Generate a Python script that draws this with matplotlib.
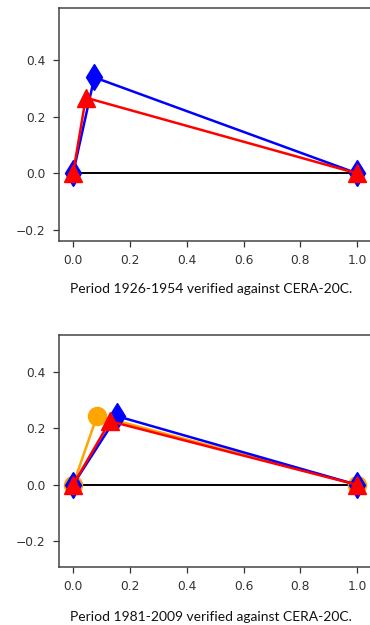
import matplotlib.pyplot as plt

plt.rcParams['font.family'] = 'DejaVu Sans'

# period 1926-1954
p1_blue_x = [0.0, 0.075, 1.0]
p1_blue_y = [0.0, 0.34, 0.0]
p1_red_x = [0.0, 0.045, 1.0]
p1_red_y = [0.0, 0.268, 0.0]

# period 1981-2009
p2_orange_x = [0.0, 0.085, 1.0]
p2_orange_y = [0.0, 0.245, 0.0]
p2_blue_x = [0.0, 0.155, 1.0]
p2_blue_y = [0.0, 0.243, 0.0]
p2_red_x = [0.0, 0.13, 1.0]
p2_red_y = [0.0, 0.225, 0.0]

captions = ["Period 1926-1954 verified against CERA-20C.",
            "Period 1981-2009 verified against CERA-20C."]

fig = plt.figure(figsize=(3.7, 6.25), dpi=100)
ax1 = fig.add_axes([0.159, 0.614, 0.845, 0.373])
ax2 = fig.add_axes([0.159, 0.093, 0.845, 0.371])

# top
ax1.plot([0, 1], [0, 0], color='black', lw=1.4, zorder=1)
ax1.plot(p1_blue_x, p1_blue_y, color='blue', marker='d', ms=13, lw=1.8)
ax1.plot(p1_red_x, p1_red_y, color='red', marker='^', ms=13, lw=1.8)
ax1.set_ylim(-0.24, 0.585)

# bottom
ax2.plot([0, 1], [0, 0], color='black', lw=1.4, zorder=1)
ax2.plot(p2_orange_x, p2_orange_y, color='orange', marker='o', ms=13, lw=1.8)
ax2.plot(p2_blue_x, p2_blue_y, color='blue', marker='d', ms=13, lw=1.8)
ax2.plot(p2_red_x, p2_red_y, color='red', marker='^', ms=13, lw=1.8)
ax2.set_ylim(-0.29, 0.53)

for ax in (ax1, ax2):
    ax.set_xlim(-0.05, 1.05)
    ax.set_xticks([0, 0.2, 0.4, 0.6, 0.8, 1.0])
    ax.set_yticks([-0.2, 0.0, 0.2, 0.4])
    ax.tick_params(labelsize=8.8, colors='#333333', length=4.5, width=0.9, pad=5)
    for s in ax.spines.values():
        s.set_color('#444444')
        s.set_linewidth(1.1)

fig.text(0.571, 1 - 289 / 625, captions[0], ha='center', va='center',
         fontsize=10, family='Lato', color='#111111')
fig.text(0.571, 1 - 617 / 625, captions[1], ha='center', va='center',
         fontsize=10, family='Lato', color='#111111')

fig.savefig('out.png', dpi=100)
